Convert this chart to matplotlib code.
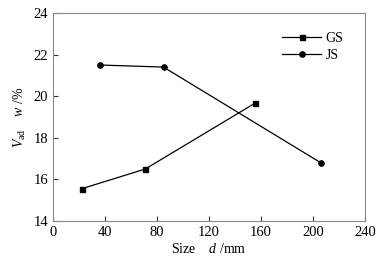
import matplotlib
matplotlib.use("Agg")
import matplotlib.pyplot as plt

plt.rcParams['font.family'] = ['Liberation Serif', 'DejaVu Serif']
plt.rcParams['mathtext.fontset'] = 'custom'
plt.rcParams['mathtext.rm'] = 'Liberation Serif'
plt.rcParams['mathtext.it'] = 'Liberation Serif:italic'

gs_x = [22, 71, 155]
gs_y = [15.55, 16.5, 19.65]
js_x = [36, 85, 206]
js_y = [21.5, 21.4, 16.8]

fig = plt.figure(figsize=(3.89, 2.66), dpi=100)
ax = fig.add_axes([53/389, 1-221/266, (365-53)/389, (221-13)/266])
ax.plot(gs_x, gs_y, color='black', lw=0.9, marker='s', ms=3.6, label='GS')
ax.plot(js_x, js_y, color='black', lw=0.9, marker='o', ms=3.8, label='JS')
ax.set_xlim(0, 240)
ax.set_ylim(14, 24)
ax.set_xticks(range(0, 241, 40))
ax.set_yticks(range(14, 25, 2))
ax.tick_params(direction='in', labelsize=10.5, length=3.5, width=0.8, colors='#333333', labelcolor='black')
for s in ax.spines.values():
    s.set_color('#888888')
    s.set_linewidth(0.8)
ax.set_xlabel(r'Size    $d$ /mm', fontsize=10, labelpad=2)
ax.set_ylabel(r'$V_{\mathrm{ad}}$    $w$ /%', fontsize=10, labelpad=4)
ax.legend(loc='upper right', frameon=False, fontsize=10, handlelength=2.8,
          bbox_to_anchor=(0.97, 0.97), handletextpad=0.3, labelspacing=0.3)
fig.savefig('out.png', dpi=100)
